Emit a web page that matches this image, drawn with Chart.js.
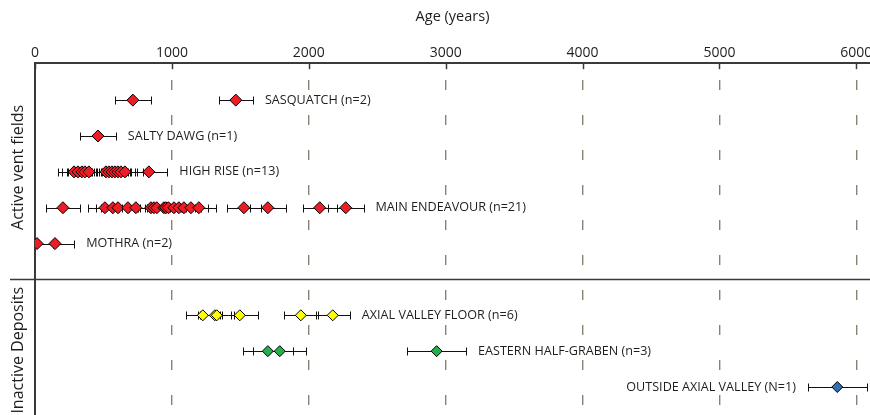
<!DOCTYPE html>
<html>
<head>
<meta charset="utf-8">
<script src="https://cdn.jsdelivr.net/npm/chart.js@4/dist/chart.umd.min.js"></script>
<style>
  html, body { margin: 0; padding: 0; background: #fff; width: 870px; height: 415px; overflow: hidden; }
  canvas { display: block; }
</style>
</head>
<body>
<canvas id="chart" width="870" height="415"></canvas>
<script>
// Age axis ticks (years)
const ageTicks = [0, 1000, 2000, 3000, 4000, 5000, 6000];
const groupNames = ['Active vent fields', 'Inactive Deposits'];

// Site names, one per row (row 5 is the gap between the two groups)
const siteNames = [
  'SASQUATCH (n=2)',
  'SALTY DAWG (n=1)',
  'HIGH RISE (n=13)',
  'MAIN ENDEAVOUR (n=21)',
  'MOTHRA (n=2)',
  'AXIAL VALLEY FLOOR (n=6)',
  'EASTERN HALF-GRABEN (n=3)',
  'OUTSIDE AXIAL VALLEY (N=1)'
];
const siteRows = [0, 1, 2, 3, 4, 6, 7, 8];

// Ages and 1-sigma uncertainties (years)
const sasquatchAges = [715, 1467];
const sasquatchErrs = [130, 125];
const saltyDawgAges = [460];
const saltyDawgErrs = [130];
const highRiseAges = [285, 314, 343, 365, 394, 518, 540, 562, 584, 606, 628, 657, 832];
const highRiseErrs = [115, 120, 110, 125, 120, 110, 125, 120, 115, 125, 120, 130, 135];
const mainEndeavourAges = [204, 511, 569, 606, 679, 737, 847, 869, 890, 942, 956, 975,
                           1015, 1051, 1088, 1139, 1197, 1526, 1701, 2080, 2270];
const mainEndeavourErrs = [125, 125, 120, 125, 125, 120, 125, 120, 125, 125, 120, 125,
                           125, 120, 125, 125, 125, 125, 130, 125, 130];
const mothraAges = [15, 146];
const mothraErrs = [120, 140];
const axialFloorAges = [1226, 1314, 1328, 1496, 1942, 2175];
const axialFloorErrs = [125, 120, 125, 130, 125, 125];
const easternGrabenAges = [1701, 1788, 2934];
const easternGrabenErrs = [185, 195, 215];
const outsideAxialAges = [5861];
const outsideAxialErrs = [215];

const redFill = '#ee1c24';
const yellowFill = '#ffff00';
const greenFill = '#22b14c';
const blueFill = '#2e6fb5';

const sites = [
  { ages: sasquatchAges, errs: sasquatchErrs, color: redFill, side: 'right' },
  { ages: saltyDawgAges, errs: saltyDawgErrs, color: redFill, side: 'right' },
  { ages: highRiseAges, errs: highRiseErrs, color: redFill, side: 'right' },
  { ages: mainEndeavourAges, errs: mainEndeavourErrs, color: redFill, side: 'right' },
  { ages: mothraAges, errs: mothraErrs, color: redFill, side: 'right' },
  { ages: axialFloorAges, errs: axialFloorErrs, color: yellowFill, side: 'right' },
  { ages: easternGrabenAges, errs: easternGrabenErrs, color: greenFill, side: 'right' },
  { ages: outsideAxialAges, errs: outsideAxialErrs, color: blueFill, side: 'left' }
];

const inkColor = '#3a3a3a';
const textColor = '#1e1e1e';
const gridColor = '#8c8072';
const fontFamily = '"Open Sans", "Liberation Sans", sans-serif';

const datasets = sites.map((s, i) => ({
  label: siteNames[i],
  data: s.ages.map(a => ({ x: a, y: siteRows[i] })),
  errs: s.errs,
  side: s.side,
  pointStyle: 'rectRot',
  pointRadius: s.color === redFill ? 6 : 5.5,
  pointBackgroundColor: s.color,
  pointBorderColor: '#000',
  pointBorderWidth: 1,
  showLine: false
}));

// Horizontal error bars with end caps, drawn under the markers
const errorBars = {
  id: 'errorBars',
  beforeDatasetsDraw(chart) {
    const { ctx, chartArea, scales: { x, y } } = chart;
    ctx.save();
    ctx.beginPath();
    ctx.rect(chartArea.left, chartArea.top, chartArea.right - chartArea.left, chartArea.bottom - chartArea.top);
    ctx.clip();
    ctx.strokeStyle = '#111';
    ctx.lineWidth = 1;
    chart.data.datasets.forEach(ds => {
      ds.data.forEach((p, i) => {
        const e = ds.errs[i];
        const x1 = Math.round(x.getPixelForValue(p.x - e)) + 0.5;
        const x2 = Math.round(x.getPixelForValue(p.x + e)) + 0.5;
        const py = Math.round(y.getPixelForValue(p.y)) + 0.5;
        ctx.beginPath();
        ctx.moveTo(x1, py); ctx.lineTo(x2, py);
        ctx.moveTo(x1, py - 4); ctx.lineTo(x1, py + 4);
        ctx.moveTo(x2, py - 4); ctx.lineTo(x2, py + 4);
        ctx.stroke();
      });
    });
    ctx.restore();
  }
};

// Tick marks, site labels, group divider and group titles
const annotations = {
  id: 'annotations',
  afterDraw(chart) {
    const { ctx, chartArea, scales: { x, y } } = chart;
    ctx.save();
    // tick marks below the top axis
    ctx.strokeStyle = inkColor;
    ctx.lineWidth = 1.5;
    ageTicks.forEach(v => {
      const px = Math.round(x.getPixelForValue(v)) + 0.5;
      ctx.beginPath();
      ctx.moveTo(px, chartArea.top);
      ctx.lineTo(px, chartArea.top + 6);
      ctx.stroke();
    });
    // site labels
    ctx.fillStyle = textColor;
    ctx.font = '12.6px ' + fontFamily;
    ctx.textBaseline = 'middle';
    chart.data.datasets.forEach(ds => {
      const py = y.getPixelForValue(ds.data[0].y);
      if (ds.side === 'left') {
        const lo = Math.min(...ds.data.map((p, i) => p.x - ds.errs[i]));
        ctx.textAlign = 'right';
        ctx.fillText(ds.label, x.getPixelForValue(lo) - 12, py);
      } else {
        const hi = Math.max(...ds.data.map((p, i) => p.x + ds.errs[i]));
        ctx.textAlign = 'left';
        ctx.fillText(ds.label, x.getPixelForValue(hi) + 12, py);
      }
    });
    // divider between the two groups
    const divY = Math.round(y.getPixelForValue(5)) + 0.5;
    ctx.strokeStyle = inkColor;
    ctx.lineWidth = 1.5;
    ctx.beginPath();
    ctx.moveTo(10, divY);
    ctx.lineTo(chart.width, divY);
    ctx.stroke();
    // group titles
    ctx.font = '16px ' + fontFamily;
    ctx.textAlign = 'center';
    ctx.textBaseline = 'middle';
    const centers = [(chartArea.top + divY) / 2 - 4, (divY + chartArea.bottom) / 2 + 3];
    groupNames.forEach((name, i) => {
      ctx.save();
      ctx.translate(18, centers[i]);
      ctx.rotate(-Math.PI / 2);
      ctx.fillText(name, 0, 0);
      ctx.restore();
    });
    ctx.restore();
  }
};

new Chart(document.getElementById('chart'), {
  type: 'scatter',
  data: { datasets },
  options: {
    responsive: false,
    animation: false,
    devicePixelRatio: 1,
    layout: { autoPadding: false, padding: { left: 27, right: 0, top: 0, bottom: 0 } },
    plugins: { legend: { display: false }, tooltip: { enabled: false } },
    scales: {
      x: {
        type: 'linear',
        position: 'top',
        min: 0,
        max: 6100,
        afterBuildTicks: s => { s.ticks = ageTicks.map(v => ({ value: v })); },
        // let the last tick label run off the right edge instead of shrinking the plot
        afterFit: s => { s.paddingRight = 0; },
        ticks: {
          padding: 2,
          color: textColor,
          autoSkip: false,
          maxRotation: 0,
          font: { family: fontFamily, size: 14 },
          callback: v => String(v)
        },
        grid: {
          drawTicks: false,
          lineWidth: 1.4,
          color: c => (c.tick && c.tick.value > 0) ? gridColor : 'rgba(0,0,0,0)'
        },
        border: { display: true, color: inkColor, width: 2, dash: [10, 25], dashOffset: 19 },
        title: {
          display: true,
          text: 'Age (years)',
          color: textColor,
          font: { family: fontFamily, size: 14.5 },
          padding: { top: 8, bottom: 17 }
        }
      },
      y: {
        type: 'linear',
        reverse: true,
        min: -1.03,
        max: 8.78,
        ticks: { display: false },
        grid: { display: false },
        border: { display: true, color: inkColor, width: 2 }
      }
    }
  },
  plugins: [errorBars, annotations]
});
</script>
</body>
</html>
